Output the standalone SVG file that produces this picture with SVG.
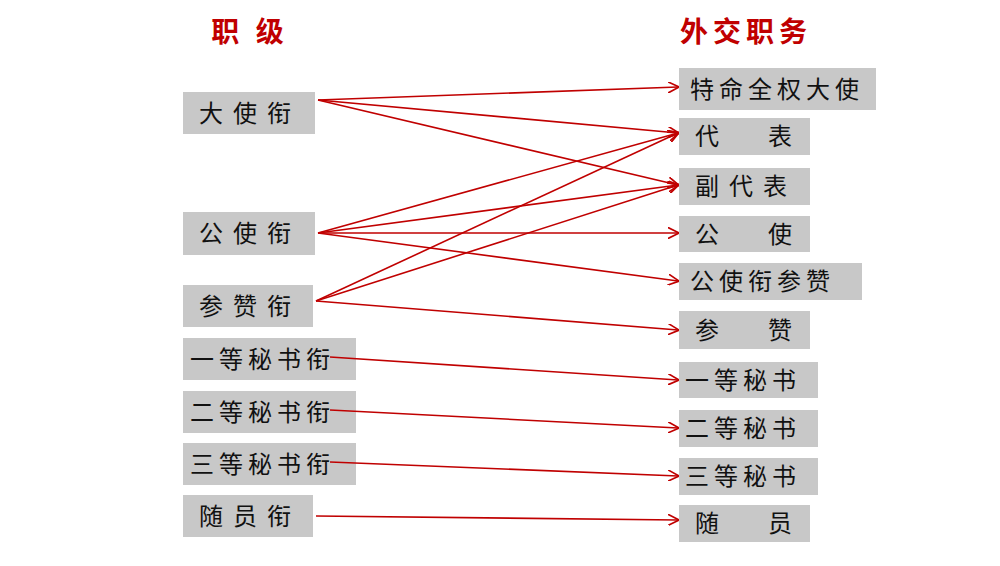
<svg xmlns="http://www.w3.org/2000/svg" width="1000" height="566" viewBox="0 0 1000 566">
<style>
.b{fill:#c8c8c8}
.t{font-family:"Noto Sans CJK SC",sans-serif;font-size:24px;fill:#111;letter-spacing:5px}
.w{letter-spacing:10px}
.h{font-family:"Noto Sans CJK SC",sans-serif;font-size:28px;font-weight:bold;fill:#c00000;letter-spacing:5px}
.c line{stroke:#c00000;stroke-width:1.6;marker-end:url(#a)}
</style>
<defs><marker id="a" viewBox="0 0 10 10" refX="9" refY="5" markerWidth="7" markerHeight="7" orient="auto"><path d="M0,0L10,5L0,10" fill="none" stroke="#c00000" stroke-width="1.5"/></marker></defs>
<rect width="1000" height="566" fill="#fff"/>
<text class="h" x="250" y="42" text-anchor="middle">职  级</text>
<text class="h" x="746" y="42" text-anchor="middle">外交职务</text>
<g id="l1"><rect class="b" x="183" y="92" width="132" height="42"/><text class="t w" x="199" y="122">大使衔</text></g>
<g id="l2"><rect class="b" x="183" y="212" width="132" height="43"/><text class="t w" x="199" y="242">公使衔</text></g>
<g id="l3"><rect class="b" x="183" y="285" width="130" height="42"/><text class="t w" x="199" y="315">参赞衔</text></g>
<g id="l4"><rect class="b" x="183" y="338" width="173" height="42"/><text class="t" x="190" y="368">一等秘书衔</text></g>
<g id="l5"><rect class="b" x="183" y="391" width="173" height="42"/><text class="t" x="190" y="421">二等秘书衔</text></g>
<g id="l6"><rect class="b" x="183" y="443" width="173" height="42"/><text class="t" x="190" y="473">三等秘书衔</text></g>
<g id="l7"><rect class="b" x="183" y="495" width="130" height="42"/><text class="t w" x="199" y="525">随员衔</text></g>
<g id="r1"><rect class="b" x="679" y="68" width="197" height="42"/><text class="t" x="690" y="98" letter-spacing="1">特命全权大使</text></g>
<g id="r2"><rect class="b" x="679" y="118" width="131" height="37"/><text class="t" x="695" y="145">代<tspan x="768">表</tspan></text></g>
<g id="r3"><rect class="b" x="679" y="168" width="131" height="37"/><text class="t w" x="695" y="195">副代表</text></g>
<g id="r4"><rect class="b" x="679" y="216" width="131" height="36"/><text class="t" x="695" y="243">公<tspan x="768">使</tspan></text></g>
<g id="r5"><rect class="b" x="679" y="263" width="183" height="37"/><text class="t" x="690" y="290" letter-spacing="9">公使衔参赞</text></g>
<g id="r6"><rect class="b" x="679" y="311" width="131" height="38"/><text class="t" x="695" y="339">参<tspan x="768">赞</tspan></text></g>
<g id="r7"><rect class="b" x="679" y="362" width="139" height="36"/><text class="t" x="685" y="389" letter-spacing="8">一等秘书</text></g>
<g id="r8"><rect class="b" x="679" y="410" width="139" height="37"/><text class="t" x="685" y="437" letter-spacing="8">二等秘书</text></g>
<g id="r9"><rect class="b" x="679" y="458" width="139" height="37"/><text class="t" x="685" y="485" letter-spacing="8">三等秘书</text></g>
<g id="r10"><rect class="b" x="679" y="505" width="131" height="37"/><text class="t" x="695" y="532">随<tspan x="768">员</tspan></text></g>
<g class="c">
<line x1="318" y1="100" x2="678" y2="87"/>
<line x1="318" y1="100" x2="678" y2="133"/>
<line x1="318" y1="100" x2="678" y2="185"/>
<line x1="318" y1="233" x2="678" y2="133"/>
<line x1="318" y1="233" x2="678" y2="185"/>
<line x1="318" y1="233" x2="678" y2="233"/>
<line x1="318" y1="233" x2="678" y2="281"/>
<line x1="316" y1="301" x2="678" y2="133"/>
<line x1="316" y1="301" x2="678" y2="185"/>
<line x1="316" y1="301" x2="678" y2="330"/>
<line x1="330" y1="357" x2="678" y2="380"/>
<line x1="330" y1="410" x2="678" y2="428"/>
<line x1="330" y1="462" x2="678" y2="476"/>
<line x1="316" y1="516" x2="678" y2="520"/>
</g>
</svg>
